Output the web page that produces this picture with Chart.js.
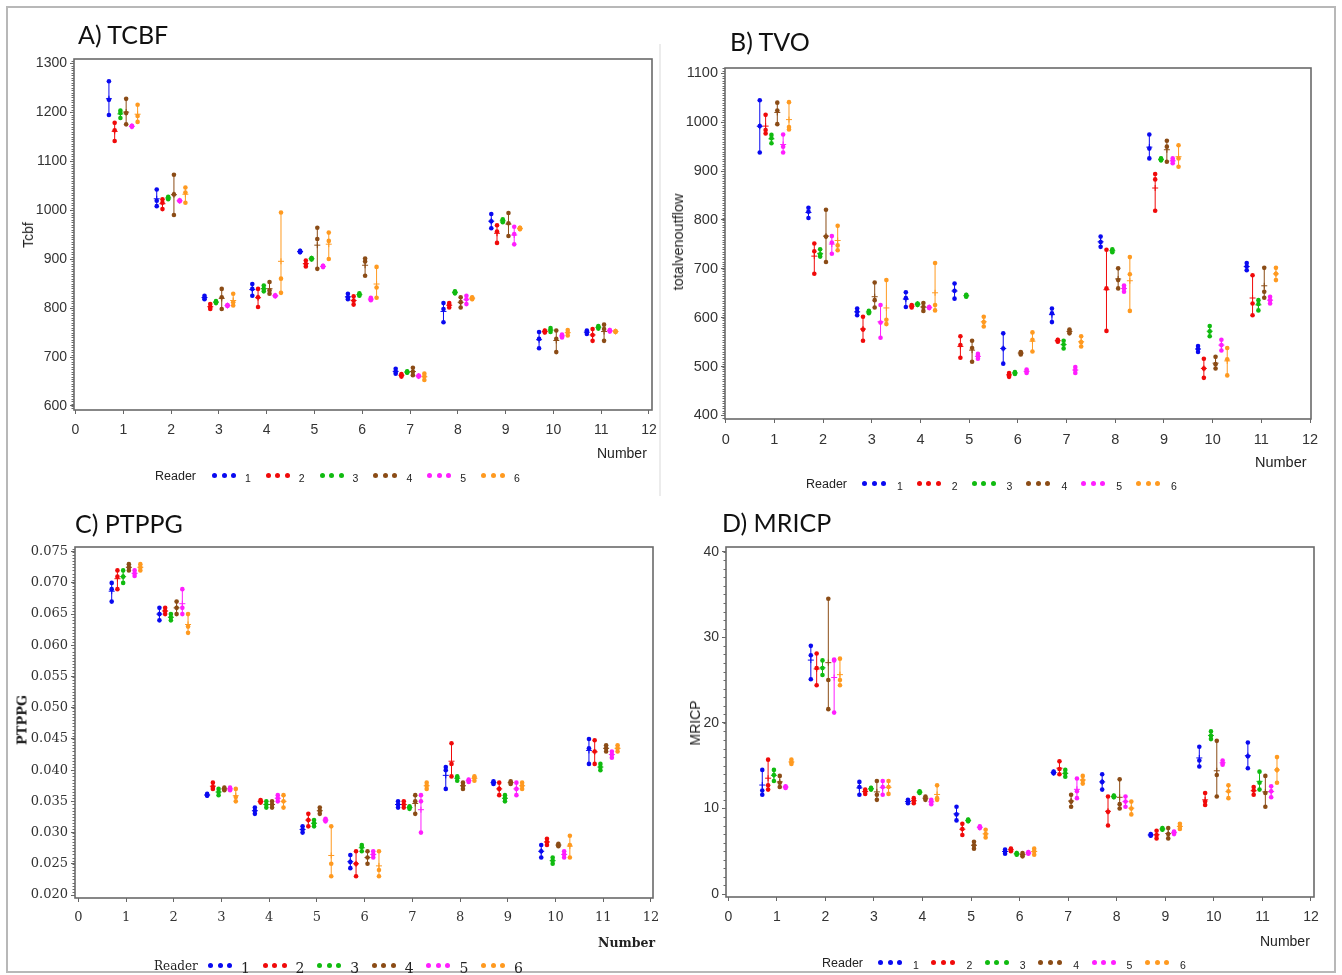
<!DOCTYPE html>
<html><head><meta charset="utf-8">
<script src="https://cdn.jsdelivr.net/npm/chart.js@4/dist/chart.umd.min.js"></script>
<style>
html,body{margin:0;padding:0;background:#fff;}
#wrap{position:relative;width:1342px;height:975px;overflow:hidden;background:#fff;}
canvas{position:absolute;}
.t{position:absolute;white-space:nowrap;color:#222;}
.title{font-family:Lato,'Open Sans',sans-serif;font-size:25px;line-height:26px;color:#111;}
.sans{font-family:'Liberation Sans',Arial,sans-serif;}
.serif{font-family:'DejaVu Serif',serif;}
.ylab{transform:translate(-50%,-50%) rotate(-90deg);}
.mid{transform:translateY(-50%);}
.dot{position:absolute;width:5px;height:5px;border-radius:50%;}
</style></head>
<body><div id="wrap">
<div style="position:absolute;left:6px;top:6px;width:1326px;height:963px;border:2px solid #b8b8b8;"></div>
<div style="position:absolute;left:659px;top:44px;width:2px;height:452px;background:#ececec;"></div>
<canvas id="cA" width="671" height="500" style="left:0;top:0"></canvas>
<canvas id="cB" width="671" height="500" style="left:671px;top:0"></canvas>
<canvas id="cC" width="671" height="475" style="left:0;top:500px"></canvas>
<canvas id="cD" width="671" height="475" style="left:671px;top:500px"></canvas>

<div class="t title" style="left:78px;top:21px;">A) TCBF</div>
<div class="t title" style="left:730px;top:28px;">B) TVO</div>
<div class="t title" style="left:75px;top:510px;">C) PTPPG</div>
<div class="t title" style="left:722px;top:509px;">D) MRICP</div>

<div class="t sans ylab" style="left:28px;top:235px;font-size:14px;">Tcbf</div>
<div class="t sans ylab" style="left:678px;top:242px;font-size:14.5px;">totalvenoutflow</div>
<div class="t serif ylab" style="left:22px;top:720px;font-size:13px;font-weight:bold;">PTPPG</div>
<div class="t sans ylab" style="left:695px;top:723px;font-size:14px;">MRICP</div>

<div class="t sans mid" style="left:597px;top:453px;font-size:14px;">Number</div>
<div class="t sans mid" style="left:1255px;top:462px;font-size:14.5px;">Number</div>
<div class="t serif mid" style="left:598px;top:942px;font-size:12.5px;font-weight:bold;">Number</div>
<div class="t sans mid" style="left:1260px;top:941px;font-size:14px;">Number</div>
</div>
<script>
// ---------- data ----------
const subjects = [1,2,3,4,5,6,7,8,9,10,11];
const readers = ['1','2','3','4','5','6'];
const readerOffsets = [-0.3,-0.18,-0.06,0.06,0.18,0.3];
const readerColors = ['#0a0af0','#f00a0a','#10bb10','#8b4c16','#ff1eff','#ff9a20'];
const xTicks = [0,1,2,3,4,5,6,7,8,9,10,11,12];
const tcbfTicks = [600,700,800,900,1000,1100,1200,1300];
const tvoTicks = [400,500,600,700,800,900,1000,1100];
const ptppgTicks = [0.020,0.025,0.030,0.035,0.040,0.045,0.050,0.055,0.060,0.065,0.070,0.075];
const mricpTicks = [0,10,20,30,40];

// TCBF: repeated measurements per subject, reader 1..6
const tcbf1 = [[1194,1225,1263],[1008,1019,1042],[818,821,825],[825,839,849],[914,915,917],[818,822,829],[666,670,676],[771,798,810],[963,977,992],[718,737,751],[747,751,754]];
const tcbf2 = [[1141,1163,1178],[1002,1015,1022],[798,802,808],[802,822,839],[885,890,897],[807,815,824],[660,663,665],[801,806,810],[933,956,969],[750,752,754],[733,745,757]];
const tcbf3 = [[1188,1198,1203],[1022,1025,1027],[810,812,814],[834,839,846],[899,901,902],[825,827,830],[668,669,671],[830,832,834],[975,978,981],[751,755,759],[758,761,763]];
const tcbf4 = [[1175,1198,1227],[990,1032,1072],[798,822,839],[829,836,853],[880,941,964],[866,895,901],[663,670,678],[801,812,822],[947,973,994],[710,737,754],[733,757,766]];
const tcbf5 = [[1170,1171,1172],[1018,1019,1020],[804,805,806],[824,825,826],[884,885,886],[816,818,821],[660,661,662],[808,818,825],[930,951,966],[740,743,746],[752,754,755]];
const tcbf6 = [[1180,1192,1215],[1015,1036,1046],[805,812,829],[831,860,995],[900,937,954],[821,842,884],[653,660,666],[818,820,822],[961,963,964],[744,750,755],[751,752,753]];

// TVO
const tvo1 = [[938,992,1045],[804,817,825],[605,612,619],[622,640,652],[639,655,670],[506,537,568],[591,609,619],[745,755,766],[926,946,975],[530,536,542],[697,705,712]];
const tvo2 = [[977,984,1015],[690,736,752],[553,576,602],[621,624,626],[518,544,562],[479,483,487],[551,553,555],[573,660,739],[819,883,894],[477,496,516],[605,629,687]];
const tvo3 = [[957,967,974],[725,730,740],[609,612,614],[626,628,629],[643,645,647],[485,487,489],[537,545,553],[734,737,740],[922,924,926],[562,572,583],[615,628,636]];
const tvo4 = [[996,1024,1040],[714,766,821],[621,636,672],[614,622,630],[510,538,553],[525,528,530],[568,572,576],[660,677,701],[919,950,962],[496,505,520],[641,653,702]];
const tvo5 = [[938,950,975],[731,754,767],[559,590,626],[620,621,622],[516,521,526],[487,490,494],[487,493,499],[653,660,666],[916,921,926],[533,544,555],[629,636,643]];
const tvo6 = [[985,990,1041],[738,748,788],[587,596,677],[615,626,712],[582,591,602],[531,555,570],[541,550,562],[614,689,724],[909,926,953],[482,515,538],[677,690,702]];

// PTPPG
const ptppg1 = [[.067,.069,.070],[.064,.065,.066],[.0359,.036,.0362],[.033,.0335,.034],[.030,.0305,.031],[.0243,.0253,.0264],[.034,.0345,.035],[.037,.040,.0405],[.0378,.038,.0382],[.026,.027,.028],[.041,.0435,.045]];
const ptppg2 = [[.069,.071,.072],[.065,.0655,.066],[.037,.0373,.038],[.0348,.035,.0352],[.031,.032,.033],[.023,.025,.027],[.034,.0345,.035],[.039,.041,.0443],[.036,.037,.038],[.028,.0285,.029],[.041,.043,.0448]];
const ptppg3 = [[.070,.071,.072],[.064,.0645,.065],[.036,.0365,.037],[.034,.0345,.035],[.031,.0315,.032],[.027,.0277,.028],[.0338,.034,.0342],[.0383,.0388,.039],[.035,.0355,.036],[.025,.0255,.026],[.040,.0405,.041]];
const ptppg4 = [[.072,.0725,.073],[.065,.066,.067],[.0368,.037,.0372],[.034,.0345,.035],[.033,.0335,.034],[.025,.026,.027],[.033,.035,.036],[.037,.0375,.038],[.0378,.038,.0382],[.0278,.028,.0282],[.043,.0435,.044]];
const ptppg5 = [[.0711,.0715,.072],[.065,.066,.069],[.0368,.037,.0372],[.035,.0355,.036],[.0318,.032,.0322],[.026,.0265,.027],[.030,.035,.036],[.0381,.0383,.0385],[.036,.037,.038],[.026,.0265,.027],[.042,.0425,.043]];
const ptppg6 = [[.072,.0725,.073],[.062,.063,.065],[.035,.0357,.037],[.034,.035,.036],[.023,.025,.031],[.023,.024,.027],[.037,.0375,.038],[.0383,.0388,.039],[.037,.0375,.038],[.026,.028,.0295],[.043,.0435,.044]];

// MRICP
const mricp1 = [[11.6,12.1,14.5],[25.1,27.9,29.0],[11.6,12.5,13.1],[10.6,10.8,11.0],[8.6,9.3,10.2],[4.7,5.0,5.2],[14.1,14.2,14.3],[12.2,13.1,14.0],[6.8,6.9,7.0],[14.9,15.6,17.2],[14.7,16.1,17.7]];
const mricp2 = [[12.2,12.7,15.7],[24.4,26.4,28.1],[11.7,12.0,12.2],[10.6,10.9,11.2],[6.9,7.6,8.2],[5.0,5.2,5.3],[14.0,14.6,15.5],[8.0,9.6,11.4],[6.5,6.9,7.4],[10.4,10.8,11.8],[11.6,12.1,12.5]];
const mricp3 = [[13.2,13.9,14.5],[25.6,26.4,27.3],[12.2,12.3,12.4],[11.8,11.9,12.0],[8.5,8.6,8.7],[4.6,4.7,4.8],[13.7,14.1,14.5],[11.3,11.4,11.5],[7.5,7.6,7.7],[18.1,18.5,19.0],[12.2,13.0,14.3]];
const mricp4 = [[12.5,13.0,13.8],[21.6,25.0,34.5],[11.0,11.6,13.2],[11.0,11.2,11.4],[5.3,5.7,6.1],[4.4,4.6,4.8],[10.2,10.8,11.6],[10.0,10.5,13.4],[6.5,7.0,7.7],[11.4,13.9,17.9],[10.2,11.8,13.8]];
const mricp5 = [[12.4,12.5,12.6],[21.2,27.3,27.4],[11.6,12.5,13.2],[10.5,10.8,11.0],[7.7,7.8,7.9],[4.7,4.8,4.9],[11.2,12.0,13.5],[10.2,10.8,11.4],[7.0,7.2,7.3],[15.1,15.3,15.6],[11.3,12.0,12.6]];
const mricp6 = [[15.2,15.4,15.7],[24.4,25.0,27.5],[11.7,12.5,13.2],[11.0,11.2,12.7],[6.6,7.0,7.5],[4.6,5.0,5.3],[12.9,13.3,13.8],[9.3,10.0,10.8],[7.6,7.9,8.2],[11.2,12.0,12.7],[13.0,14.5,16.0]];

// ---------- rendering ----------
function buildDatasets(series) {
  const ds = [];
  series.forEach((vals, r) => {
    const col = readerColors[r];
    const seg = [], dots = [], means = [];
    vals.forEach((trip, i) => {
      const x = subjects[i] + readerOffsets[r];
      const lo = Math.min(...trip), hi = Math.max(...trip);
      seg.push({x, y: lo}, {x, y: hi}, {x, y: null});
      trip.forEach(v => dots.push({x, y: v}));
      means.push({x, y: trip.reduce((a, b) => a + b, 0) / trip.length});
    });
    ds.push({type: 'line', label: 'Reader ' + readers[r], data: seg, borderColor: col, borderWidth: 1, pointRadius: 0, spanGaps: false, fill: false, tension: 0});
    ds.push({type: 'scatter', data: dots, pointRadius: 2.3, pointBackgroundColor: col, pointBorderColor: col, pointBorderWidth: 0});
    ds.push({type: 'scatter', data: means, pointStyle: 'cross', pointRadius: 3, pointBorderColor: col, pointBorderWidth: 1});
  });
  return ds;
}

const framePlugin = {
  id: 'frame',
  afterDraw(chart, args, opts) {
    const {ctx, chartArea: a} = chart;
    const y = chart.scales.y;
    ctx.save();
    ctx.strokeStyle = '#6a6a6a';
    ctx.lineWidth = 1;
    const k0 = Math.ceil(y.min / opts.minorStep - 1e-9), k1 = Math.floor(y.max / opts.minorStep + 1e-9);
    for (let k = k0; k <= k1; k++) {
      const py = Math.round(y.getPixelForValue(k * opts.minorStep)) + 0.5;
      ctx.beginPath(); ctx.moveTo(a.left - 2.5, py); ctx.lineTo(a.left, py); ctx.stroke();
    }
    ctx.lineWidth = 1.6;
    ctx.strokeRect(a.left, a.top, a.right - a.left, a.bottom - a.top);
    ctx.restore();
  }
};

function makeChart(id, cfg) {
  const tickFont = {family: cfg.family, size: cfg.fontSize, weight: cfg.weight || 'normal'};
  new Chart(document.getElementById(id), {
    type: 'scatter',
    data: {datasets: buildDatasets(cfg.series)},
    options: {
      responsive: false, animation: false, events: [],
      layout: {padding: cfg.pad},
      plugins: {legend: {display: false}, tooltip: {enabled: false}, frame: {minorStep: cfg.minorStep}},
      scales: {
        x: {
          type: 'linear', min: cfg.xmin, max: cfg.xmax,
          afterBuildTicks: s => { s.ticks = xTicks.map(v => ({value: v})); },
          afterFit: s => { s.height = 40; },
          border: {display: false},
          grid: {drawOnChartArea: false, drawTicks: true, tickLength: 4, color: '#666'},
          ticks: {font: tickFont, color: '#333', padding: 8, autoSkip: false, maxRotation: 0, callback: v => String(v)}
        },
        y: {
          type: 'linear', min: cfg.ymin, max: cfg.ymax,
          afterBuildTicks: s => { s.ticks = cfg.yTicks.map(v => ({value: v})); },
          afterFit: s => { s.width = cfg.yWidth; },
          border: {display: false},
          grid: {drawOnChartArea: false, drawTicks: true, tickLength: 4, color: '#666'},
          ticks: {font: tickFont, color: '#333', padding: 3, autoSkip: false, callback: cfg.yFmt}
        }
      }
    },
    plugins: [framePlugin]
  });
}

makeChart('cA', {series: [tcbf1,tcbf2,tcbf3,tcbf4,tcbf5,tcbf6], yTicks: tcbfTicks, yFmt: v => String(v),
  xmin: -0.031, xmax: 12.063, ymin: 591.8, ymax: 1308.4, minorStep: 5,
  pad: {left: 14, top: 59, right: 19, bottom: 50}, yWidth: 60, family: "'Liberation Sans', Arial, sans-serif", fontSize: 14});
makeChart('cB', {series: [tvo1,tvo2,tvo3,tvo4,tvo5,tvo6], yTicks: tvoTicks, yFmt: v => String(v),
  xmin: -0.014, xmax: 12.02, ymin: 392.8, ymax: 1110.9, minorStep: 5,
  pad: {left: 4, top: 68, right: 31, bottom: 41}, yWidth: 50, family: "'Liberation Sans', Arial, sans-serif", fontSize: 14.5});
makeChart('cC', {series: [ptppg1,ptppg2,ptppg3,ptppg4,ptppg5,ptppg6], yTicks: ptppgTicks, yFmt: v => Number(v).toFixed(3),
  xmin: -0.069, xmax: 12.042, ymin: 0.01952, ymax: 0.07575, minorStep: 0.0005,
  pad: {left: 15, top: 47, right: 18, bottom: 37}, yWidth: 60, family: "'DejaVu Serif', serif", fontSize: 13});
makeChart('cD', {series: [mricp1,mricp2,mricp3,mricp4,mricp5,mricp6], yTicks: mricpTicks, yFmt: v => String(v),
  xmin: -0.047, xmax: 12.062, ymin: -0.35, ymax: 40.55, minorStep: 1,
  pad: {left: 5, top: 47, right: 28, bottom: 38}, yWidth: 50, family: "'Liberation Sans', Arial, sans-serif", fontSize: 14});

// ---------- legends (HTML) ----------
const legends = [
  {label: 155, y: 476, dots: 212, num: 245, step: 53.8, cls: 'sans', fs: 12.5, nfs: 10.5, ndy: 2},
  {label: 806, y: 484, dots: 862, num: 897, step: 54.8, cls: 'sans', fs: 12.5, nfs: 10.5, ndy: 2},
  {label: 154, y: 966, dots: 208, num: 241, step: 54.6, cls: 'serif', fs: 12, nfs: 14, ndy: 2},
  {label: 822, y: 963, dots: 878, num: 913, step: 53.4, cls: 'sans', fs: 12.5, nfs: 10.5, ndy: 2}
];
const wrap = document.getElementById('wrap');
legends.forEach(L => {
  const t = document.createElement('div');
  t.className = 't mid ' + L.cls; t.style.left = L.label + 'px'; t.style.top = L.y + 'px'; t.style.fontSize = L.fs + 'px';
  t.textContent = 'Reader'; wrap.appendChild(t);
  readers.forEach((r, i) => {
    for (let j = 0; j < 3; j++) {
      const d = document.createElement('div');
      d.className = 'dot'; d.style.background = readerColors[i];
      d.style.left = (L.dots + i * L.step + j * 9.5) + 'px'; d.style.top = (L.y - 3) + 'px';
      wrap.appendChild(d);
    }
    const n = document.createElement('div');
    n.className = 't mid ' + L.cls; n.style.left = (L.num + i * L.step) + 'px'; n.style.top = (L.y + L.ndy) + 'px';
    n.style.fontSize = L.nfs + 'px'; n.textContent = r; wrap.appendChild(n);
  });
});
</script>
</body></html>
